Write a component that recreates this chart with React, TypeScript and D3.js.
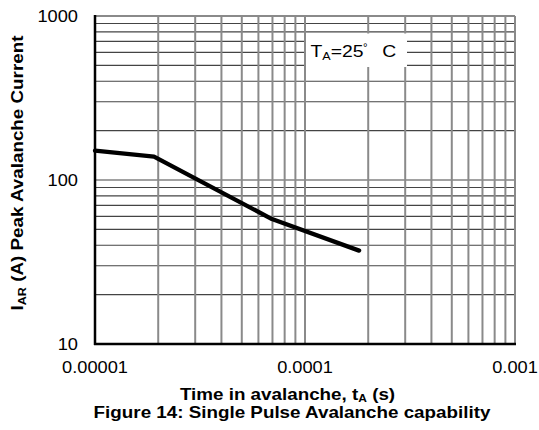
import React from "react";
import * as d3 from "d3";

const timeValues = [1e-5, 1.91e-5, 6.96e-5, 1.81e-4];
const currentValues = [151, 139, 57.8, 37.1];
const xTickValues = [1e-5, 1e-4, 1e-3];
const xTickLabels = ["0.00001", "0.0001", "0.001"];
const yTickValues = [10, 100, 1000];
const yTickLabels = ["10", "100", "1000"];
const xTitle = "Time in avalanche, t";
const yTitle = "I";
const caption = "Figure 14: Single Pulse Avalanche capability";

const W = 539;
const H = 430;
const M = { left: 95, right: 515, top: 16, bottom: 344 };
const FONT = "'Liberation Sans', Arial, sans-serif";
const SX = 1.14;

export default function App() {
  const x = d3.scaleLog().domain([1e-5, 1e-3]).range([M.left, M.right]);
  const y = d3.scaleLog().domain([10, 1000]).range([M.bottom, M.top]);

  const xGrid: number[] = [];
  const yGrid: number[] = [];
  for (const dec of [1e-5, 1e-4]) for (let k = 1; k <= 9; k++) xGrid.push(dec * k);
  for (const dec of [10, 100]) for (let k = 1; k <= 9; k++) yGrid.push(dec * k);

  const line = d3
    .line<number>()
    .x((_, i) => x(timeValues[i]))
    .y((d) => y(d));

  return (
    <svg
      width={W}
      height={H}
      style={{ position: "absolute", left: 0, top: 0, background: "#fff" }}
      fontFamily={FONT}
    >
      <rect x={0} y={0} width={W} height={H} fill="#fff" />
      {/* horizontal grid */}
      {yGrid
        .filter((v) => v > 10)
        .map((v, i) => (
          <line key={"h" + i} x1={M.left} x2={M.right} y1={y(v)} y2={y(v)} stroke="#444" strokeWidth={1.2} />
        ))}
      {/* vertical grid */}
      {xGrid
        .filter((v) => v > 1e-5)
        .map((v, i) => (
          <line key={"v" + i} x1={x(v)} x2={x(v)} y1={M.top} y2={M.bottom} stroke="#8a8a8a" strokeWidth={2} />
        ))}
      {/* top & right border */}
      <line x1={M.left} x2={M.right} y1={M.top} y2={M.top} stroke="#8a8a8a" strokeWidth={2} />
      <line x1={M.right} x2={M.right} y1={M.top} y2={M.bottom} stroke="#8a8a8a" strokeWidth={2} />
      {/* legend box */}
      <rect x={306} y={33.5} width={101} height={33.5} fill="#fff" />
      <text transform={`translate(310.5,57) scale(${SX},1)`} fontSize={17} fill="#000">
        T
        <tspan fontSize={11} dy={3}>A</tspan>
        <tspan dy={-3}>=25</tspan>
        <tspan x={46} fontSize={10} dy={-6}>°</tspan>
        <tspan x={63} fontSize={17} dy={6}>C</tspan>
      </text>
      {/* axes */}
      <line x1={M.left} x2={M.left} y1={M.top - 1} y2={M.bottom + 1} stroke="#000" strokeWidth={2.5} />
      <line x1={M.left - 1} x2={M.right + 1} y1={M.bottom} y2={M.bottom} stroke="#000" strokeWidth={2.5} />
      {/* data */}
      <path d={line(currentValues) || ""} fill="none" stroke="#000" strokeWidth={4.3} strokeLinejoin="round" strokeLinecap="round" />
      {/* y tick labels */}
      {yTickValues.map((v, i) => (
        <text key={"yl" + i} transform={`translate(78,${y(v) + 6}) scale(${SX},1)`} textAnchor="end" fontSize={16}>
          {yTickLabels[i]}
        </text>
      ))}
      {/* x tick labels */}
      {xTickValues.map((v, i) => (
        <text key={"xl" + i} transform={`translate(${x(v)},373) scale(${SX},1)`} textAnchor="middle" fontSize={16}>
          {xTickLabels[i]}
        </text>
      ))}
      {/* x title */}
      <text transform={`translate(287.5,399.5) scale(${SX},1)`} textAnchor="middle" fontSize={16.5} fontWeight="bold">
        {xTitle}
        <tspan fontSize={10.5} dy={2.5}>A</tspan>
        <tspan dy={-2.5}> (s)</tspan>
      </text>
      {/* caption */}
      <text transform={`translate(292,418) scale(${SX},1)`} textAnchor="middle" fontSize={16.5} fontWeight="bold">
        {caption}
      </text>
      {/* y title */}
      <text transform={`translate(23,173) rotate(-90) scale(${SX},1)`} textAnchor="middle" fontSize={16.5} fontWeight="bold">
        {yTitle}
        <tspan fontSize={11} dy={3}>AR</tspan>
        <tspan dy={-3}> (A) Peak Avalanche Current</tspan>
      </text>
    </svg>
  );
}
